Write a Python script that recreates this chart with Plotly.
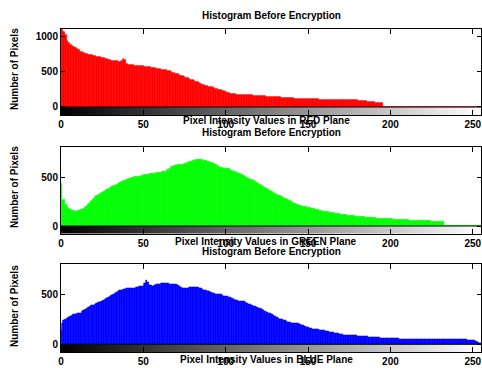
import plotly.graph_objects as go

W, H = 482, 368

intensity = list(range(256))

red_counts = [
    1100, 1085, 1060, 1010, 935, 900, 880, 862, 845, 830, 812, 800, 778, 770, 758, 748,
    742, 736, 731, 726, 720, 714, 708, 704, 700, 694, 689, 681, 673, 668, 661, 655,
    650, 646, 642, 640, 637, 650, 672, 662, 612, 598, 592, 588, 585, 584, 582, 581,
    580, 577, 574, 570, 566, 561, 557, 553, 550, 546, 541, 536, 531, 528, 525, 522,
    520, 514, 505, 495, 484, 473, 466, 459, 450, 440, 431, 420, 411, 404, 394, 385,
    376, 366, 356, 348, 336, 326, 315, 306, 298, 292, 288, 286, 279, 270, 260, 250,
    243, 239, 230, 221, 210, 200, 191, 183, 179, 178, 176, 175, 173, 172, 171, 170,
    169, 168, 166, 164, 162, 161, 160, 159, 158, 156, 153, 150, 148, 147, 146, 145,
    144, 142, 140, 138, 136, 134, 132, 130, 128, 126, 125, 123, 122, 120, 119, 118,
    117, 116, 115, 114, 113, 111, 110, 109, 108, 108, 107, 106, 106, 105, 105, 104,
    104, 104, 103, 104, 102, 101, 100, 100, 99, 99, 98, 97, 96, 96, 95, 94,
    94, 94, 93, 94, 92, 90, 88, 85, 82, 80, 76, 72, 70, 66, 64, 62,
    60, 57, 56, 52, 0, 0, 0, 0, 0, 0, 0, 0, 0, 0, 0, 0,
    0, 0, 0, 0, 0, 0, 0, 0, 0, 0, 0, 0, 0, 0, 0, 0,
    0, 0, 0, 0, 0, 0, 0, 0, 0, 0, 0, 0, 0, 0, 0, 0,
    0, 0, 0, 0, 0, 0, 0, 0, 0, 0, 0, 0, 0, 0, 0, 0,
]

green_counts = [
    430, 262, 270, 222, 196, 181, 168, 160, 152, 151, 154, 160, 166, 172, 181, 195,
    211, 226, 241, 260, 282, 296, 309, 322, 335, 345, 356, 366, 377, 388, 397, 405,
    410, 416, 423, 431, 440, 452, 461, 470, 476, 483, 490, 495, 500, 505, 508, 511,
    511, 516, 520, 525, 528, 530, 532, 534, 537, 540, 545, 548, 550, 552, 553, 554,
    560, 575, 590, 604, 612, 617, 620, 625, 628, 631, 632, 635, 641, 648, 655, 662,
    669, 672, 676, 678, 681, 680, 678, 675, 671, 665, 658, 652, 645, 638, 630, 622,
    612, 602, 595, 588, 590, 592, 592, 581, 570, 560, 553, 546, 542, 539, 530, 520,
    510, 500, 490, 480, 471, 462, 455, 445, 435, 421, 410, 400, 390, 380, 371, 363,
    352, 343, 333, 324, 315, 307, 300, 293, 285, 276, 266, 255, 245, 236, 228, 222,
    217, 212, 207, 203, 199, 195, 191, 187, 182, 178, 173, 168, 164, 160, 156, 151,
    148, 145, 142, 140, 138, 134, 130, 127, 125, 122, 119, 117, 114, 111, 108, 106,
    104, 103, 101, 99, 97, 96, 94, 92, 91, 90, 88, 87, 85, 84, 82, 81,
    80, 79, 78, 77, 76, 75, 73, 72, 71, 70, 69, 68, 67, 66, 65, 63,
    63, 62, 61, 60, 59, 58, 57, 57, 56, 55, 54, 54, 53, 52, 51, 50,
    50, 49, 48, 47, 46, 45, 44, 43, 42, 0, 0, 0, 0, 0, 0, 0,
    0, 0, 0, 0, 0, 0, 0, 0, 0, 0, 0, 0, 0, 0, 0, 0,
]

blue_counts = [
    147, 216, 240, 255, 267, 275, 285, 293, 301, 305, 310, 314, 318, 330, 345, 358,
    370, 378, 385, 392, 397, 405, 415, 422, 430, 438, 445, 455, 465, 478, 490, 500,
    507, 515, 525, 535, 545, 552, 558, 562, 565, 566, 567, 568, 568, 570, 575, 580,
    585, 590, 592, 620, 644, 630, 600, 595, 592, 600, 605, 610, 612, 614, 616, 616,
    615, 614, 613, 612, 611, 610, 605, 595, 585, 575, 568, 566, 568, 570, 573, 575,
    575, 574, 575, 574, 570, 565, 558, 550, 545, 541, 535, 528, 520, 515, 510, 508,
    507, 502, 495, 490, 486, 482, 478, 473, 465, 458, 450, 442, 436, 431, 434, 432,
    425, 418, 410, 402, 395, 387, 383, 378, 370, 360, 350, 340, 330, 320, 315, 310,
    300, 290, 280, 270, 262, 255, 250, 246, 240, 233, 226, 220, 216, 214, 213, 212,
    208, 202, 196, 190, 182, 175, 168, 161, 158, 155, 152, 150, 148, 147, 145, 144,
    140, 135, 130, 126, 122, 118, 114, 110, 107, 104, 101, 98, 96, 94, 93, 92,
    91, 90, 88, 87, 86, 85, 84, 83, 82, 80, 78, 76, 74, 72, 70, 68,
    67, 66, 65, 64, 63, 62, 60, 59, 58, 58, 57, 57, 56, 56, 55, 55,
    55, 54, 54, 53, 53, 52, 52, 51, 51, 50, 50, 49, 49, 49, 48, 48,
    48, 48, 48, 49, 48, 48, 47, 48, 48, 49, 48, 48, 47, 48, 48, 49,
    48, 48, 48, 47, 48, 47, 46, 45, 44, 43, 42, 41, 30, 20, 12, 8,
]

assert len(red_counts) == 256 and len(green_counts) == 256 and len(blue_counts) == 256

x_ticks = [0, 50, 100, 150, 200, 250]
y_ticks = [[0, 500, 1000], [0, 500], [0, 500]]
title_text = "Histogram Before Encryption"
x_labels = [
    "Pixel Intensity Values in RED Plane",
    "Pixel Intensity Values in GREEN Plane",
    "Pixel Intensity Values in BLUE Plane",
]
y_label = "Number of Pixels"
series = [red_counts, green_counts, blue_counts]
colors = ["#FF0000", "#00FF00", "#0000FF"]

# layout geometry (pixels)
x_left, x_right = 61, 481
panels = [
    dict(top=29, bot=115, yr=[-113, 1099], ty=16, lx=121, ly=69),
    dict(top=146.7, bot=233.5, yr=[-77, 814], ty=132, lx=241, ly=187),
    dict(top=264.3, bot=352, yr=[-78, 811], ty=251.5, lx=359, ly=306),
]


def fx(px):
    return px / W


def fy(py):
    return 1 - py / H


FONT = "Liberation Sans, Arial, sans-serif"

fig = go.Figure()
annotations = []
shapes = []
layout_axes = {}

for i, (counts, col, p) in enumerate(zip(series, colors, panels)):
    n = "" if i == 0 else str(i + 1)
    xa, ya = "x" + n, "y" + n
    gray_h = -p["yr"][0]
    fig.add_trace(go.Heatmap(
        z=[intensity], x=intensity, y0=-gray_h / 2, dy=gray_h,
        colorscale=[[0, "black"], [1, "white"]], zmin=0, zmax=255,
        showscale=False, xaxis=xa, yaxis=ya, hoverinfo="skip",
    ))
    fig.add_trace(go.Bar(
        x=intensity, y=counts, marker=dict(color=col, line=dict(color=col, width=0.6)),
        width=1, xaxis=xa, yaxis=ya, showlegend=False,
    ))
    layout_axes["xaxis" + n] = dict(
        domain=[fx(x_left), fx(x_right)], range=[0, 255], anchor=ya, automargin=False,
        tickvals=x_ticks, ticks="inside", ticklen=5, tickcolor="black",
        showline=True, linecolor="black", linewidth=1, mirror="ticks",
        showgrid=False, zeroline=False,
        tickfont=dict(family=FONT, size=10, color="black", weight="bold"),
    )
    layout_axes["yaxis" + n] = dict(
        domain=[fy(p["bot"]), fy(p["top"])], range=p["yr"], anchor=xa, automargin=False,
        tickvals=y_ticks[i], ticks="inside", ticklen=4, tickcolor="black",
        showline=True, linecolor="black", linewidth=1, mirror="ticks",
        showgrid=False, zeroline=False,
        tickfont=dict(family=FONT, size=10, color="black", weight="bold"),
    )
    shapes.append(dict(type="line", xref=xa + " domain", yref=ya, x0=0, x1=1, y0=0, y1=0,
                       line=dict(color="black", width=1)))
    annotations.append(dict(text=title_text, x=fx(271), y=fy(p["ty"]), xref="paper", yref="paper",
                            showarrow=False, xanchor="center", yanchor="middle",
                            font=dict(family=FONT, size=10, color="black", weight="bold")))
    annotations.append(dict(text=x_labels[i], x=fx(266), y=fy(p["lx"]), xref="paper", yref="paper",
                            showarrow=False, xanchor="center", yanchor="middle",
                            font=dict(family=FONT, size=10, color="black", weight="bold")))
    annotations.append(dict(text=y_label, x=fx(14), y=fy(p["ly"]), xref="paper", yref="paper",
                            showarrow=False, xanchor="center", yanchor="middle", textangle=-90,
                            font=dict(family=FONT, size=10, color="black", weight="bold")))

fig.update_layout(
    width=W, height=H, margin=dict(l=0, r=0, t=0, b=0, autoexpand=False),
    paper_bgcolor="white", plot_bgcolor="white",
    bargap=0, showlegend=False,
    annotations=annotations, shapes=shapes,
    **layout_axes,
)

fig.write_html(
    "out.html",
    config={"displayModeBar": False},
    post_script="document.body.style.margin='0';document.body.style.overflow='hidden';",
)
